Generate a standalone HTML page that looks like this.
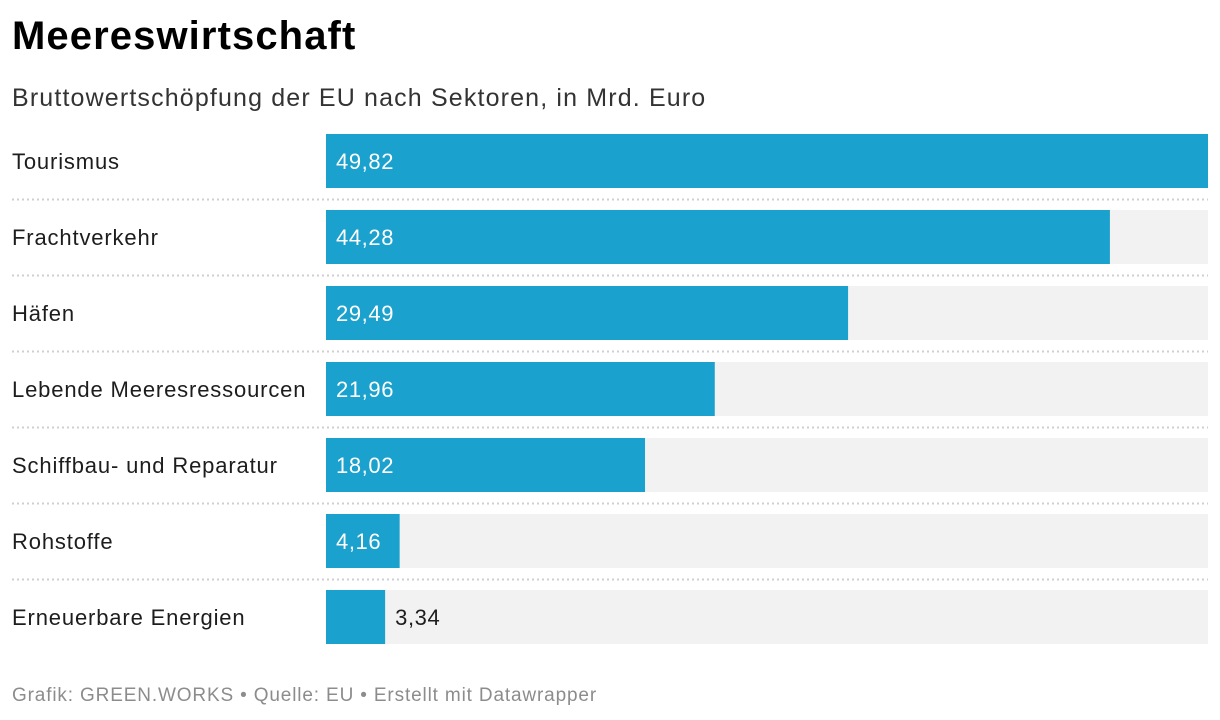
<!DOCTYPE html>
<html><head><meta charset="utf-8"><style>
body{margin:0;width:1220px;height:720px;background:#fff;font-family:"Liberation Sans",sans-serif;position:relative;overflow:hidden;color:#1d1d1d}
.t{position:absolute;left:12px;top:14px;font-size:40px;font-weight:bold;letter-spacing:1.1px;margin:0;color:#000}
.s{position:absolute;left:12px;top:84px;font-size:25px;color:#333;letter-spacing:1.15px}
.f{position:absolute;left:12px;top:685px;font-size:19px;color:#8c8c8c;letter-spacing:0.85px}
</style></head><body>
<h1 class="t">Meereswirtschaft</h1>
<div class="s">Bruttowertschöpfung der EU nach Sektoren, in Mrd. Euro</div>
<svg id="c" width="1220" height="720" style="position:absolute;left:0;top:0"></svg>
<div class="f">Grafik: GREEN.WORKS • Quelle: EU • Erstellt mit Datawrapper</div>
<script>
const categories=["Tourismus","Frachtverkehr","Häfen","Lebende Meeresressourcen","Schiffbau- und Reparatur","Rohstoffe","Erneuerbare Energien"];
const values=[49.82,44.28,29.49,21.96,18.02,4.16,3.34];
const valueLabels=["49,82","44,28","29,49","21,96","18,02","4,16","3,34"];
const maxV=49.82;
const svg=document.getElementById('c');
const NS='http://www.w3.org/2000/svg';
const x0=326,x1=1208,top0=134,pitch=76,bh=54;
const xs=v=>(v/maxV)*(x1-x0);
function mk(t,a){const e=document.createElementNS(NS,t);for(const k in a)e.setAttribute(k,a[k]);svg.appendChild(e);return e;}
categories.forEach((c,i)=>{
 const y=top0+i*pitch;
 const bg=mk('rect',{x:x0,y:y,width:x1-x0,height:bh,fill:'#f2f2f2'});
 
 
 const w=xs(values[i]);
 const b=mk('rect',{x:x0,y:y,width:w,height:bh,fill:'#1ba1cd'});
 
 
 const l=mk('text',{x:12,y:y+bh/2+8,'font-size':22,fill:'#1d1d1d','letter-spacing':0.85});
 l.textContent=c;
 
 
 const inside=w>60;
 const v=mk('text',{x:inside?x0+10:x0+w+10,y:y+bh/2+8,'font-size':22,fill:inside?'#fff':'#1d1d1d','letter-spacing':0.6});
 v.textContent=valueLabels[i];
 
 
 if(i<categories.length-1){
  const s=mk('line',{x1:12,x2:x1,y1:y+65.5,y2:y+65.5,stroke:'#cfcfcf','stroke-width':2,'stroke-dasharray':'2,3'});
  
  
 }
});
</script>
</body></html>
